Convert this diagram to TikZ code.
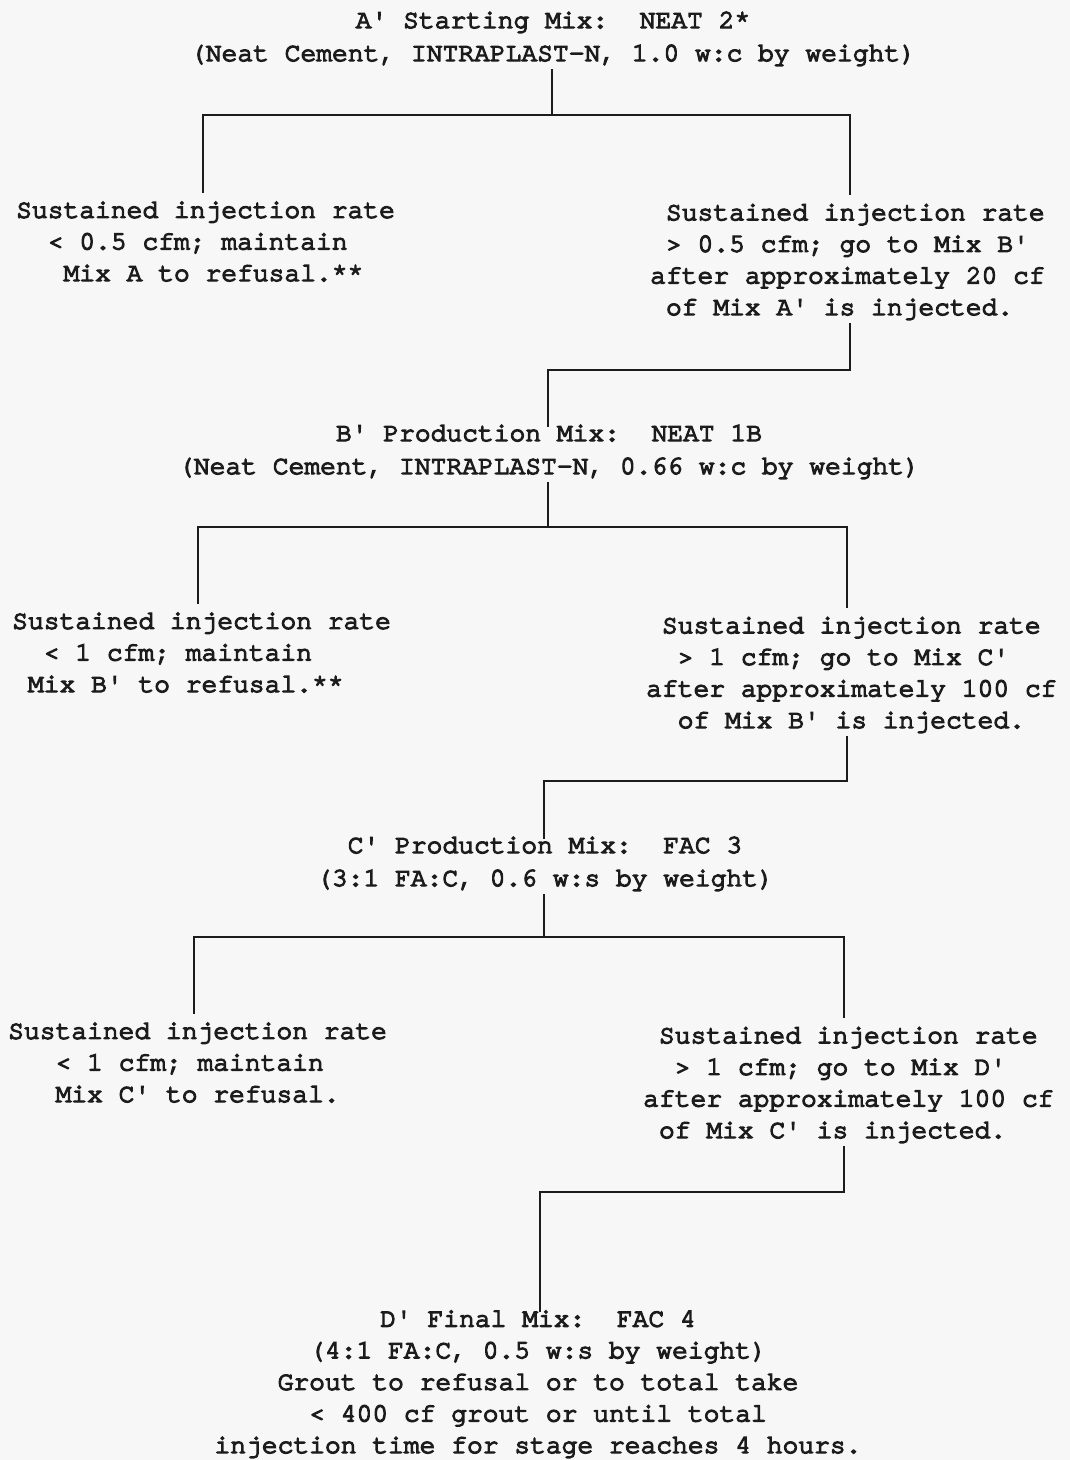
\documentclass[tikz,border=0pt]{standalone}
\usepackage{fontspec}
\setmonofont{TeX Gyre Cursor}[FakeBold=5]
\newcommand\ind[1]{\hspace*{#1\fontcharwd\font`x}}
\definecolor{ink}{RGB}{28,28,28}
\definecolor{paper}{RGB}{247,247,247}
\tikzset{
  txt/.style={font=\ttfamily\fontsize{26.3}{31.6}\selectfont, text=ink, inner xsep=0pt, inner ysep=3pt},
  side/.style={txt, align=left, anchor=base west},
  mid/.style={txt, align=center, anchor=base},
  midwide/.style={mid, font=\ttfamily\fontsize{26.3}{33}\selectfont},
  wire/.style={draw=ink, line width=2pt},
}
\begin{document}
\begin{tikzpicture}[x=1pt, y=-1pt]
\fill[paper] (0,0) rectangle (1070,1460);
\useasboundingbox (0,0) rectangle (1070,1460);

% text blocks (anchored at the baseline of their last line)
\node[midwide] (A) at (553,61) {A' Starting Mix:\ \ NEAT 2*\\(Neat Cement, INTRAPLAST-N, 1.0 w:c by weight)};
\node[side] (LA) at (16,281) {Sustained injection rate\\\ind{2}< 0.5 cfm; maintain\\\ind{3}Mix A to refusal.**};
\node[side] (RA) at (650,315) {\ind{1}Sustained injection rate\\\ind{1}> 0.5 cfm; go to Mix B'\\after approximately 20 cf\\\ind{1}of Mix A' is injected.};
\node[midwide] (B) at (549,474) {B' Production Mix:\ \ NEAT 1B\\(Neat Cement, INTRAPLAST-N, 0.66 w:c by weight)};
\node[side] (LB) at (12,692) {Sustained injection rate\\\ind{2}< 1 cfm; maintain\\\ind{1}Mix B' to refusal.**};
\node[side] (RB) at (646,728) {\ind{1}Sustained injection rate\\\ind{2}> 1 cfm; go to Mix C'\\after approximately 100 cf\\\ind{2}of Mix B' is injected.};
\node[midwide] (C) at (545,886) {C' Production Mix:\ \ FAC 3\\(3:1 FA:C, 0.6 w:s by weight)};
\node[side] (LC) at (8,1102) {Sustained injection rate\\\ind{3}< 1 cfm; maintain\\\ind{3}Mix C' to refusal.};
\node[side] (RC) at (643,1138) {\ind{1}Sustained injection rate\\\ind{2}> 1 cfm; go to Mix D'\\after approximately 100 cf\\\ind{1}of Mix C' is injected.};
\node[mid] (D) at (538,1453) {D' Final Mix:\ \ FAC 4\\(4:1 FA:C, 0.5 w:s by weight)\\Grout to refusal or to total take\\< 400 cf grout or until total\\injection time for stage reaches 4 hours.};

% junction points
\coordinate (aT) at (552,115);
\coordinate (aL) at (203,115);
\coordinate (aR) at (850,115);
\coordinate (b1) at (548,370);
\coordinate (bT) at (548,527);
\coordinate (bL) at (198,527);
\coordinate (bR) at (847,527);
\coordinate (c1) at (544,781);
\coordinate (cT) at (544,937);
\coordinate (cL) at (194,937);
\coordinate (cR) at (844,937);
\coordinate (d1) at (540,1192);

% connectors
\draw[wire] (A.south -| aT) -- (aT);
\draw[wire, shorten <=6pt, shorten >=6pt] (LA.north -| aL) |- (aR) -- (RA.north -| aR);
\draw[wire, shorten >=-5pt] (RA.south -| aR) |- (b1) -- (B.north -| b1);

\draw[wire] (B.south -| bT) -- (bT);
\draw[wire, shorten <=6pt, shorten >=6pt] (LB.north -| bL) |- (bR) -- (RB.north -| bR);
\draw[wire, shorten >=-5pt] (RB.south -| bR) |- (c1) -- (C.north -| c1);

\draw[wire] (C.south -| cT) -- (cT);
\draw[wire, shorten <=6pt, shorten >=6pt] (LC.north -| cL) |- (cR) -- (RC.north -| cR);
\draw[wire, shorten >=-5pt] (RC.south -| cR) |- (d1) -- (D.north -| d1);
\end{tikzpicture}
\end{document}
